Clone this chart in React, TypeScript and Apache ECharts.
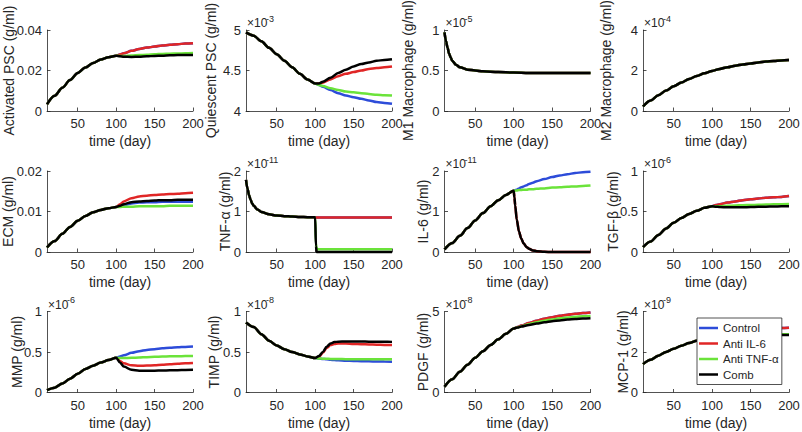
import React, { useEffect, useRef } from "react";
import * as echarts from "echarts";

// ---------- shared time grids ----------
const T_PRE = [10, 20, 30, 40, 50, 60, 70, 80, 90, 100];
const T_POST = [100, 105, 110, 120, 130, 140, 150, 160, 170, 180, 190, 200];
const T_ALL = [10, 20, 30, 40, 50, 60, 70, 80, 90, 100, 110, 120, 130, 140, 150, 160, 170, 180, 190, 200];

const SERIES_NAMES = ["Control", "Anti IL-6", "Anti TNF-\u03b1", "Comb"];
const COLORS = ["#2D4CD9", "#E02626", "#6BE33A", "#000000"];
const X_TICKS = [50, 100, 150, 200];

// 1 Activated PSC (g/ml)
const actPre = [0.0033, 0.0075, 0.0115, 0.0153, 0.0188, 0.0215, 0.0237, 0.0254, 0.0266, 0.0273];
const actCtrl = [0.0273, 0.0279, 0.0285, 0.0297, 0.0306, 0.0313, 0.0318, 0.0323, 0.0327, 0.033, 0.0333, 0.0335];
const actIl6 = [0.0273, 0.0279, 0.0285, 0.0297, 0.0306, 0.0313, 0.0318, 0.0323, 0.0327, 0.033, 0.0333, 0.0335];
const actTnf = [0.0273, 0.0272, 0.0272, 0.0274, 0.0276, 0.0278, 0.028, 0.0282, 0.0283, 0.0284, 0.0285, 0.0286];
const actComb = [0.0273, 0.027, 0.0268, 0.0267, 0.0268, 0.027, 0.0272, 0.0273, 0.0275, 0.0276, 0.0277, 0.0277];

// 2 Quiescent PSC (x1e-3)
const qPre = [4.97, 4.93, 4.86, 4.78, 4.7, 4.62, 4.54, 4.46, 4.39, 4.34];
const qCtrl = [4.34, 4.32, 4.3, 4.26, 4.22, 4.19, 4.17, 4.15, 4.13, 4.11, 4.1, 4.09];
const qIl6 = [4.34, 4.34, 4.35, 4.39, 4.43, 4.46, 4.48, 4.5, 4.52, 4.53, 4.54, 4.55];
const qTnf = [4.34, 4.32, 4.31, 4.28, 4.26, 4.24, 4.23, 4.22, 4.21, 4.2, 4.195, 4.19];
const qComb = [4.34, 4.34, 4.36, 4.41, 4.47, 4.51, 4.55, 4.58, 4.6, 4.62, 4.63, 4.64];

// 3 M1 Macrophage (x1e-5)
const m1T = [10, 12, 14, 16, 18, 20, 25, 30, 40, 50, 60, 80, 100, 120, 150, 200];
const m1V = [0.97, 0.86, 0.78, 0.71, 0.66, 0.62, 0.57, 0.54, 0.51, 0.5, 0.49, 0.48, 0.475, 0.47, 0.47, 0.47];

// 4 M2 Macrophage (x1e-4)
const m2V = [0.22, 0.52, 0.78, 1.01, 1.22, 1.41, 1.58, 1.73, 1.86, 1.98, 2.08, 2.16, 2.24, 2.3, 2.35, 2.4, 2.44, 2.47, 2.5, 2.52];

// 5 ECM (g/ml)
const ecmPre = [0.0011, 0.0027, 0.0045, 0.0062, 0.0077, 0.0089, 0.0098, 0.0104, 0.0108, 0.0111];
const ecmCtrl = [0.0111, 0.0113, 0.0116, 0.012, 0.0122, 0.0123, 0.0123, 0.0124, 0.0124, 0.0124, 0.0124, 0.0124];
const ecmIl6 = [0.0111, 0.0118, 0.0125, 0.0133, 0.0137, 0.0139, 0.0141, 0.0142, 0.0143, 0.0144, 0.0145, 0.0146];
const ecmTnf = [0.0111, 0.0111, 0.0112, 0.0112, 0.0113, 0.0113, 0.0113, 0.0113, 0.0114, 0.0114, 0.0114, 0.0114];
const ecmComb = [0.0111, 0.0114, 0.0118, 0.0123, 0.0125, 0.0126, 0.0127, 0.0128, 0.0128, 0.0129, 0.0129, 0.0129];

// 6 TNF-alpha (x1e-11)
const tnfPreT = [10, 12, 14, 16, 18, 20, 25, 30, 40, 50, 60, 70, 80, 90, 100];
const tnfPre = [1.78, 1.56, 1.4, 1.29, 1.2, 1.14, 1.05, 0.99, 0.93, 0.9, 0.885, 0.875, 0.865, 0.86, 0.855];
const tnfPostT = [100, 101, 102, 110, 150, 200];
const tnfCtrl = [0.855, 0.85, 0.85, 0.85, 0.85, 0.85];
const tnfIl6 = [0.855, 0.85, 0.85, 0.85, 0.85, 0.85];
const tnfTnf = [0.855, 0.2, 0.07, 0.07, 0.07, 0.07];
const tnfComb = [0.855, 0.15, 0.0, 0.0, 0.0, 0.0];

// 7 IL-6 (x1e-11)
const il6Pre = [0.06, 0.22, 0.4, 0.59, 0.78, 0.96, 1.13, 1.28, 1.41, 1.51];
const il6PostT = [100, 101, 102, 104, 107, 110, 113, 117, 120, 125, 130, 140, 150, 160, 170, 180, 190, 200];
const il6Ctrl = [1.51, 1.52, 1.53, 1.54, 1.57, 1.6, 1.62, 1.65, 1.68, 1.71, 1.75, 1.8, 1.85, 1.89, 1.92, 1.95, 1.97, 1.98];
const il6Il6 = [1.51, 1.35, 1.15, 0.8, 0.5, 0.33, 0.21, 0.12, 0.08, 0.04, 0.02, 0.005, 0, 0, 0, 0, 0, 0];
const il6Tnf = [1.51, 1.51, 1.52, 1.52, 1.53, 1.53, 1.54, 1.54, 1.55, 1.55, 1.56, 1.57, 1.59, 1.6, 1.61, 1.62, 1.63, 1.64];
const il6Comb = [1.51, 1.35, 1.15, 0.8, 0.5, 0.33, 0.21, 0.12, 0.08, 0.04, 0.02, 0.005, 0, 0, 0, 0, 0, 0];

// 8 TGF-beta (x1e-6)
const tgfPre = [0.06, 0.13, 0.21, 0.29, 0.36, 0.42, 0.47, 0.51, 0.545, 0.565];
const tgfCtrl = [0.565, 0.58, 0.59, 0.61, 0.625, 0.64, 0.65, 0.66, 0.67, 0.675, 0.68, 0.69];
const tgfIl6 = [0.565, 0.58, 0.59, 0.61, 0.625, 0.64, 0.65, 0.66, 0.67, 0.675, 0.68, 0.69];
const tgfTnf = [0.565, 0.565, 0.565, 0.57, 0.575, 0.578, 0.58, 0.583, 0.586, 0.588, 0.59, 0.592];
const tgfComb = [0.565, 0.56, 0.555, 0.552, 0.552, 0.553, 0.555, 0.558, 0.56, 0.562, 0.564, 0.566];

// 9 MMP (x1e-6)
const mmpPre = [0.03, 0.06, 0.11, 0.17, 0.23, 0.29, 0.33, 0.37, 0.4, 0.43];
const mmpCtrl = [0.43, 0.445, 0.46, 0.49, 0.51, 0.525, 0.535, 0.545, 0.552, 0.558, 0.563, 0.567];
const mmpIl6 = [0.43, 0.39, 0.36, 0.335, 0.33, 0.332, 0.337, 0.343, 0.349, 0.355, 0.36, 0.365];
const mmpTnf = [0.43, 0.425, 0.425, 0.428, 0.432, 0.436, 0.44, 0.443, 0.446, 0.448, 0.45, 0.452];
const mmpComb = [0.43, 0.37, 0.32, 0.28, 0.27, 0.268, 0.27, 0.272, 0.274, 0.276, 0.278, 0.28];

// 10 TIMP (x1e-8)
const timpPre = [0.865, 0.81, 0.72, 0.64, 0.58, 0.535, 0.5, 0.47, 0.445, 0.425];
const timpPostT = [100, 105, 110, 115, 120, 125, 130, 140, 150, 160, 170, 180, 190, 200];
const timpCtrl = [0.425, 0.42, 0.415, 0.41, 0.405, 0.4, 0.398, 0.393, 0.39, 0.387, 0.385, 0.383, 0.382, 0.38];
const timpIl6 = [0.425, 0.44, 0.49, 0.55, 0.585, 0.6, 0.605, 0.605, 0.6, 0.597, 0.594, 0.59, 0.587, 0.585];
const timpTnf = [0.425, 0.42, 0.418, 0.416, 0.415, 0.414, 0.413, 0.412, 0.411, 0.41, 0.41, 0.41, 0.41, 0.41];
const timpComb = [0.425, 0.45, 0.5, 0.565, 0.605, 0.622, 0.628, 0.63, 0.63, 0.629, 0.628, 0.627, 0.626, 0.625];

// 11 PDGF (x1e-8)
const pdgfPre = [0.35, 0.82, 1.28, 1.72, 2.15, 2.55, 2.93, 3.28, 3.62, 3.95];
const pdgfCtrl = [3.95, 4.04, 4.13, 4.29, 4.43, 4.55, 4.65, 4.73, 4.8, 4.86, 4.9, 4.94];
const pdgfIl6 = [3.95, 4.04, 4.13, 4.29, 4.43, 4.55, 4.65, 4.73, 4.8, 4.86, 4.9, 4.94];
const pdgfTnf = [3.95, 4.02, 4.09, 4.22, 4.33, 4.43, 4.51, 4.58, 4.63, 4.67, 4.7, 4.73];
const pdgfComb = [3.95, 4.01, 4.07, 4.17, 4.26, 4.33, 4.4, 4.45, 4.5, 4.54, 4.57, 4.59];

// 12 MCP-1 (x1e-9)
const mcpPre = [1.4, 1.62, 1.82, 2.0, 2.16, 2.31, 2.44, 2.56, 2.66, 2.74];
const mcpCtrl = [2.74, 2.78, 2.82, 2.89, 2.95, 3.01, 3.06, 3.1, 3.13, 3.16, 3.18, 3.2];
const mcpIl6 = [2.74, 2.78, 2.82, 2.89, 2.95, 3.01, 3.06, 3.1, 3.13, 3.16, 3.18, 3.2];
const mcpTnf = [2.74, 2.75, 2.76, 2.78, 2.8, 2.82, 2.84, 2.85, 2.86, 2.87, 2.88, 2.88];
const mcpComb = [2.74, 2.74, 2.75, 2.77, 2.78, 2.79, 2.8, 2.81, 2.82, 2.83, 2.84, 2.84];

// ---------- helpers ----------
const pairs = (t: number[], v: number[]) => t.map((x, i) => [x, v[i]]);
const joined = (preT: number[], pre: number[], postT: number[], post: number[]) =>
  pairs(preT, pre).concat(pairs(postT, post).slice(1));
const four = (preT: number[], pre: number[], postT: number[], posts: number[][]) =>
  posts.map((p) => joined(preT, pre, postT, p));

type Panel = {
  yName: string;
  exp: string | null;
  min: number;
  max: number;
  interval: number;
  gap: number;
  lines: number[][][];
};

const PANELS: Panel[] = [
  { yName: "Activated PSC (g/ml)", exp: null, min: 0, max: 0.04, interval: 0.02, gap: 31,
    lines: four(T_PRE, actPre, T_POST, [actCtrl, actIl6, actTnf, actComb]) },
  { yName: "Quiescent PSC (g/ml)", exp: "-3", min: 4, max: 5, interval: 0.5, gap: 28,
    lines: four(T_PRE, qPre, T_POST, [qCtrl, qIl6, qTnf, qComb]) },
  { yName: "M1 Macrophage (g/ml)", exp: "-5", min: 0, max: 1, interval: 0.5, gap: 29.5,
    lines: [0, 1, 2, 3].map(() => pairs(m1T, m1V)) },
  { yName: "M2 Macrophage (g/ml)", exp: "-4", min: 0, max: 4, interval: 2, gap: 30,
    lines: [0, 1, 2, 3].map(() => pairs(T_ALL, m2V)) },
  { yName: "ECM (g/ml)", exp: null, min: 0, max: 0.02, interval: 0.01, gap: 32,
    lines: four(T_PRE, ecmPre, T_POST, [ecmCtrl, ecmIl6, ecmTnf, ecmComb]) },
  { yName: "TNF-\u03b1 (g/ml)", exp: "-11", min: 0, max: 2, interval: 1, gap: 14.5,
    lines: four(tnfPreT, tnfPre, tnfPostT, [tnfCtrl, tnfIl6, tnfTnf, tnfComb]) },
  { yName: "IL-6 (g/ml)", exp: "-11", min: 0, max: 2, interval: 1, gap: 14.5,
    lines: four(T_PRE, il6Pre, il6PostT, [il6Ctrl, il6Il6, il6Tnf, il6Comb]) },
  { yName: "TGF-\u03b2 (g/ml)", exp: "-6", min: 0, max: 1, interval: 0.5, gap: 23,
    lines: four(T_PRE, tgfPre, T_POST, [tgfCtrl, tgfIl6, tgfTnf, tgfComb]) },
  { yName: "MMP (g/ml)", exp: "-6", min: 0, max: 1, interval: 0.5, gap: 23.5,
    lines: four(T_PRE, mmpPre, T_POST, [mmpCtrl, mmpIl6, mmpTnf, mmpComb]) },
  { yName: "TIMP (g/ml)", exp: "-8", min: 0, max: 1, interval: 0.5, gap: 25,
    lines: four(T_PRE, timpPre, timpPostT, [timpCtrl, timpIl6, timpTnf, timpComb]) },
  { yName: "PDGF (g/ml)", exp: "-8", min: 0, max: 5, interval: 5, gap: 14.5,
    lines: four(T_PRE, pdgfPre, T_POST, [pdgfCtrl, pdgfIl6, pdgfTnf, pdgfComb]) },
  { yName: "MCP-1 (g/ml)", exp: "-9", min: 0, max: 4, interval: 2, gap: 13.5,
    lines: four(T_PRE, mcpPre, T_POST, [mcpCtrl, mcpIl6, mcpTnf, mcpComb]) },
];

// ---------- layout ----------
const LEFTS = [47, 246, 444.5, 643];
const TOPS = [30, 171, 311.5];
const PW = 146;
const PH = 81;
const FONT = "Liberation Sans, Arial, Helvetica, sans-serif";
const INK = "#262626";

const fmt = (v: number) => String(parseFloat(v.toFixed(4)));

export default function App() {
  const ref = useRef<HTMLDivElement>(null);

  useEffect(() => {
    if (!ref.current) return;
    const chart = echarts.init(ref.current, undefined, { renderer: "svg" });

    const grid: any[] = [];
    const xAxis: any[] = [];
    const yAxis: any[] = [];
    const series: any[] = [];
    const graphic: any[] = [];

    PANELS.forEach((p, i) => {
      const col = i % 4;
      const row = Math.floor(i / 4);
      const left = LEFTS[col];
      const top = TOPS[row];
      grid.push({ left, top, width: PW, height: PH, containLabel: false, outerBoundsMode: "none" });
      xAxis.push({
        type: "value",
        gridIndex: i,
        min: 10,
        max: 200,
        name: "time (day)",
        nameLocation: "middle",
        nameGap: 23,
        nameMoveOverlap: false,
        nameTextStyle: { fontFamily: FONT, fontSize: 14, color: INK },
        axisLine: { show: true, onZero: false, lineStyle: { color: INK, width: 0.8 } },
        axisTick: { show: true, inside: true, length: 3.5, customValues: X_TICKS, lineStyle: { color: INK, width: 0.8 } },
        axisLabel: { customValues: X_TICKS, margin: 6, fontFamily: FONT, fontSize: 13, color: INK },
        splitLine: { show: false },
      });
      yAxis.push({
        type: "value",
        gridIndex: i,
        min: p.min,
        max: p.max,
        interval: p.interval,
        name: p.yName,
        nameLocation: "middle",
        nameGap: p.gap,
        nameMoveOverlap: false,
        nameTextStyle: { fontFamily: FONT, fontSize: 14, color: INK },
        axisLine: { show: true, onZero: false, lineStyle: { color: INK, width: 0.8 } },
        axisTick: { show: true, inside: true, length: 3.5, lineStyle: { color: INK, width: 0.8 } },
        axisLabel: { margin: 5, fontFamily: FONT, fontSize: 13, color: INK, formatter: fmt },
        splitLine: { show: false },
      });
      p.lines.forEach((data, k) => {
        series.push({
          type: "line",
          name: SERIES_NAMES[k],
          xAxisIndex: i,
          yAxisIndex: i,
          data,
          showSymbol: false,
          symbol: "none",
          clip: false,
          smooth: 0.3,
          smoothMonotone: "x",
          color: COLORS[k],
          lineStyle: { color: COLORS[k], width: 2.5 },
          z: 2 + k,
        });
      });
      if (p.exp) {
        graphic.push({
          type: "text",
          x: left + 1,
          y: top - 1,
          style: { text: "\u00d710", fontFamily: FONT, fontSize: 12, fill: INK, align: "left", verticalAlign: "bottom" },
        });
        graphic.push({
          type: "text",
          x: left + 20,
          y: top - 7,
          style: { text: p.exp, fontFamily: FONT, fontSize: 9, fill: INK, align: "left", verticalAlign: "bottom" },
        });
      }
    });

    chart.setOption({
      animation: false,
      backgroundColor: "#ffffff",
      grid,
      xAxis,
      yAxis,
      series,
      graphic,
      legend: {
        data: SERIES_NAMES,
        orient: "vertical",
        left: 697,
        top: 318,
        icon: "rect",
        itemWidth: 19,
        itemHeight: 2.5,
        itemGap: 0.5,
        padding: [2.5, 3, 2.5, 2],
        backgroundColor: "#ffffff",
        borderColor: INK,
        borderWidth: 0.8,
        borderRadius: 0,
        selectedMode: false,
        textStyle: { fontFamily: FONT, fontSize: 11.5, color: INK, lineHeight: 15 },
        z: 10,
      },
    });

    return () => chart.dispose();
  }, []);

  return (
    <div
      ref={ref}
      style={{ position: "absolute", left: 0, top: 0, width: 802, height: 432 }}
    />
  );
}
